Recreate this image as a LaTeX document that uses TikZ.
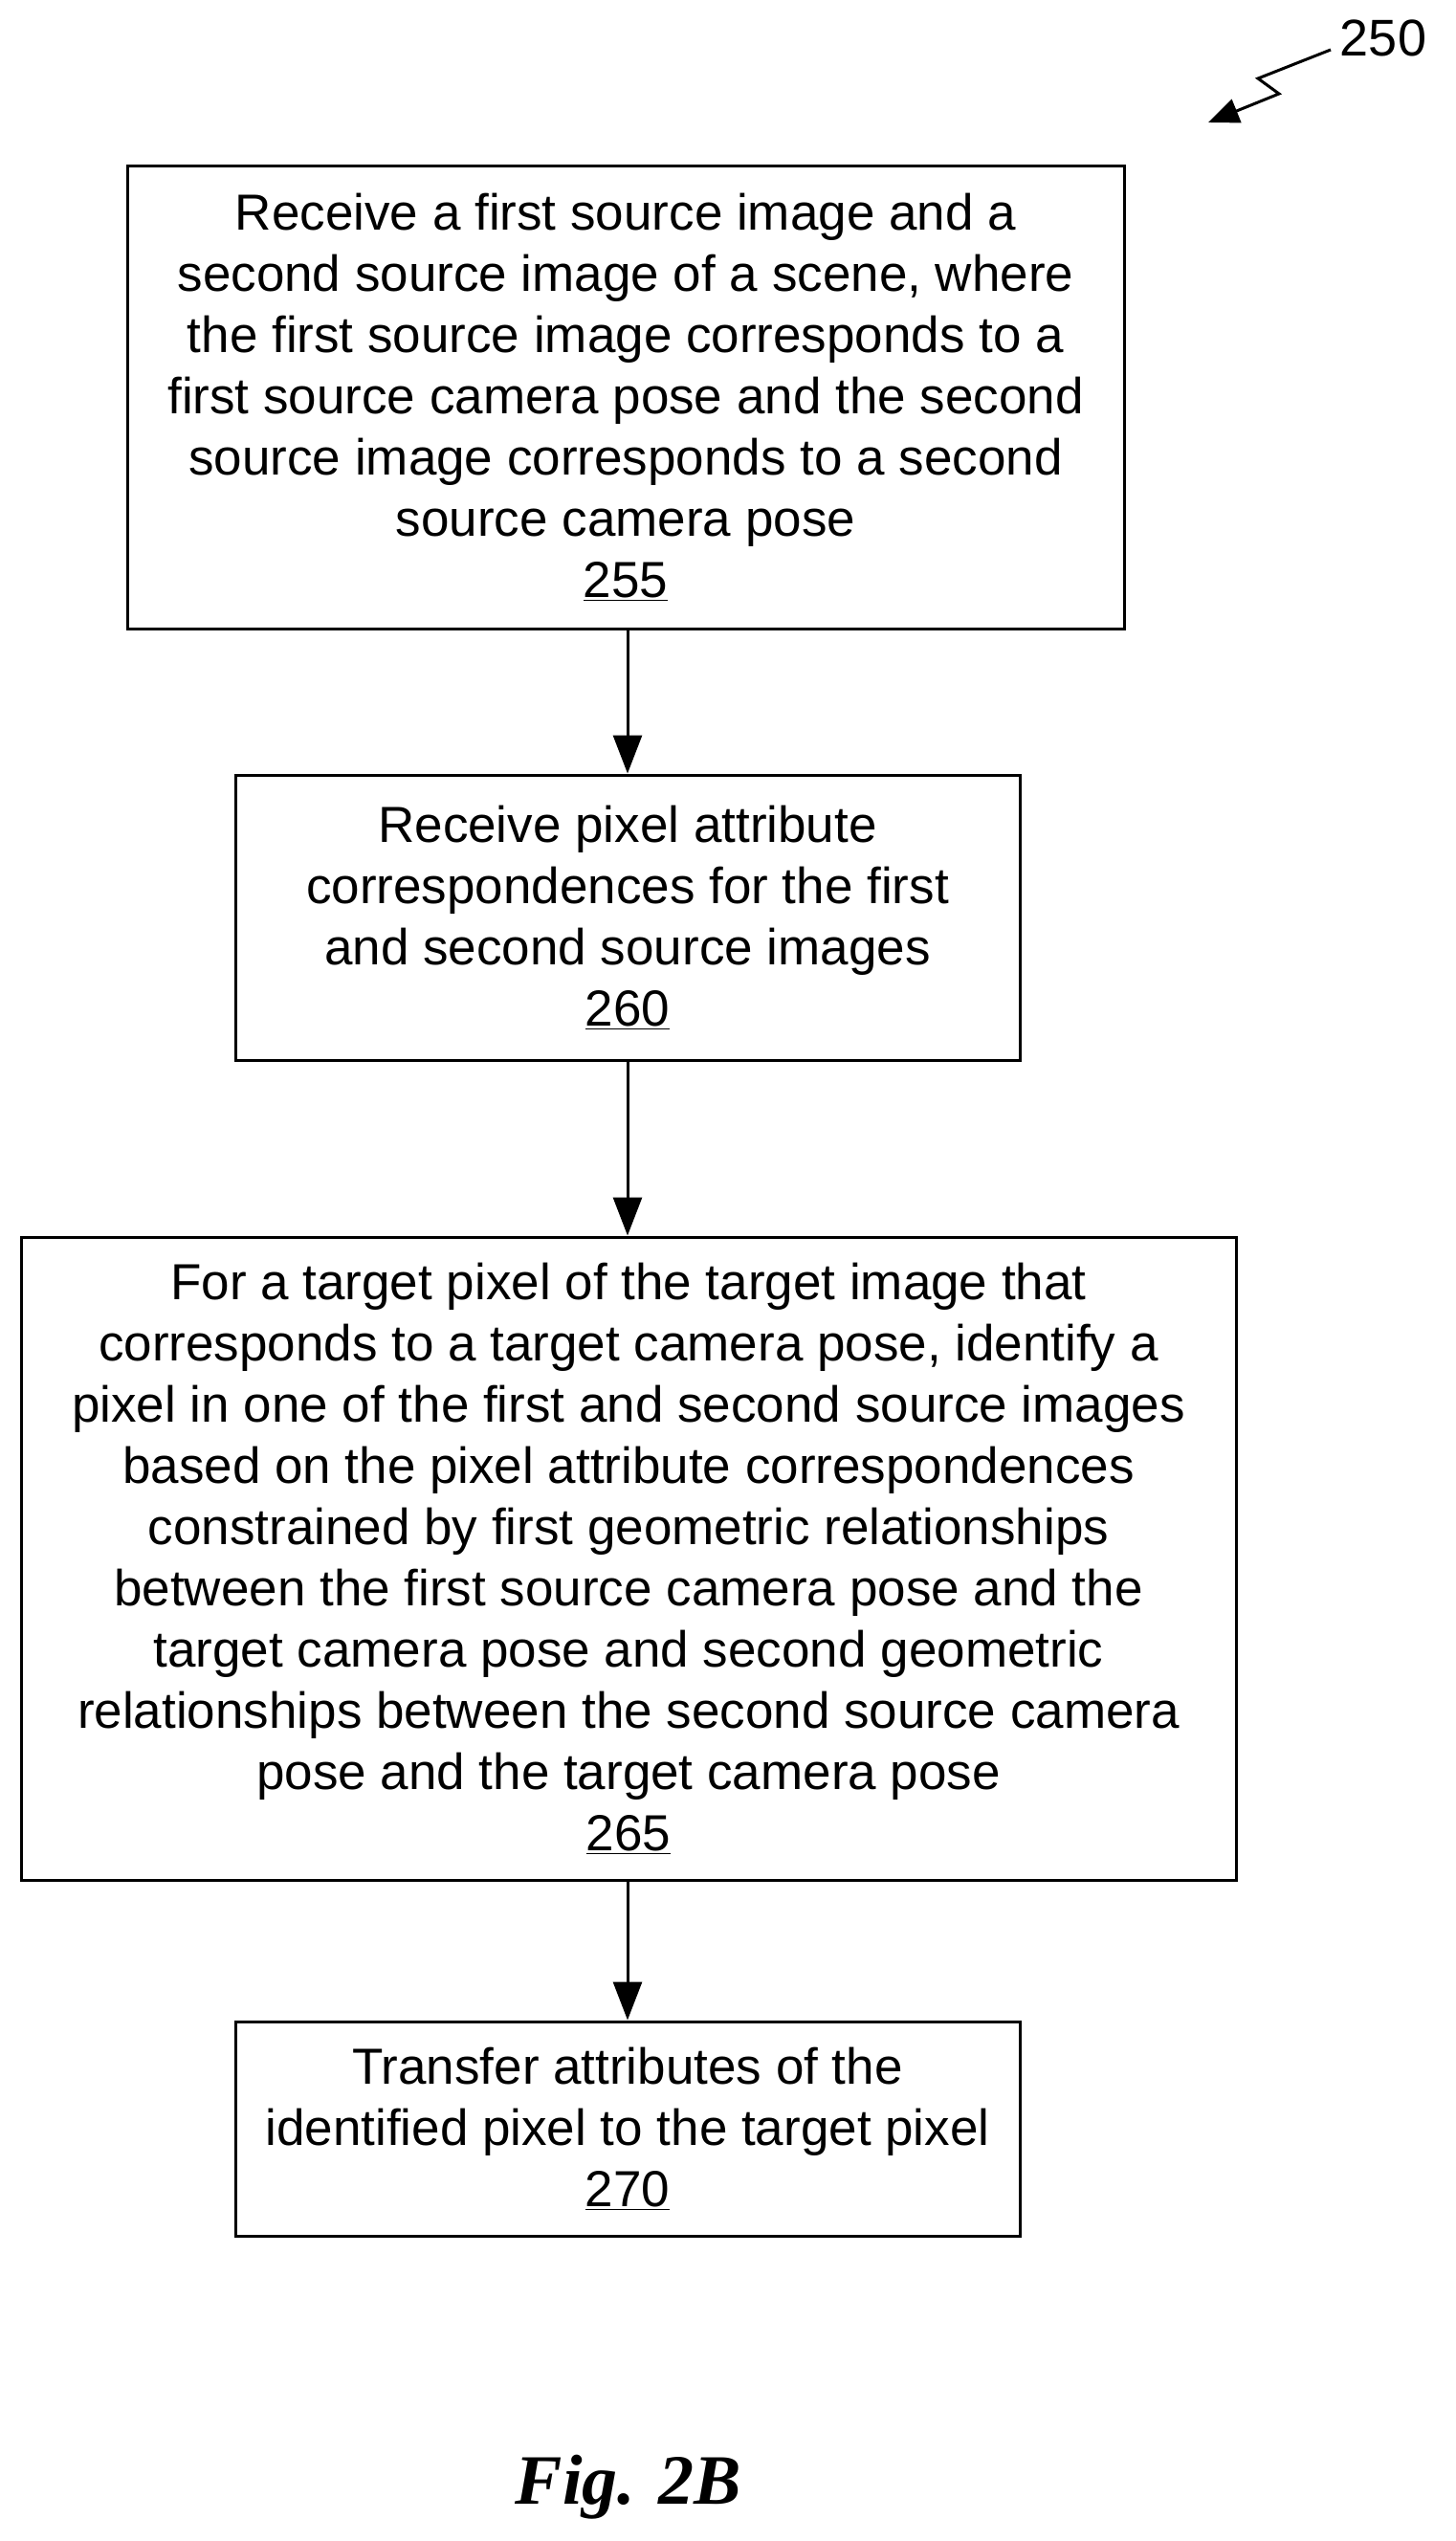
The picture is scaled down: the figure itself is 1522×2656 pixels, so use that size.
\documentclass[tikz,border=0pt]{standalone}
\usepackage{fontspec}
\setmainfont{Liberation Sans}
\newfontfamily\figfont{Liberation Serif}
\usetikzlibrary{arrows.meta}
\begin{document}
\begin{tikzpicture}[x=1pt,y=-1pt,
  stepbox/.style={draw,line width=3pt,align=center,inner sep=0pt,font=\fontsize{53}{64}\selectfont},
  arr/.style={line width=3pt,-{Triangle[length=40pt,width=30pt]}}]
\useasboundingbox (0,0) rectangle (1522,2656);
\node[stepbox,minimum width=1042pt,minimum height=484pt] (b1) at (654,415) {Receive a first source image and a\\second source image of a scene, where\\the first source image corresponds to a\\first source camera pose and the second\\source image corresponds to a second\\source camera pose\\\underline{255}};
\node[stepbox,minimum width=820pt,minimum height=298pt] (b2) at (656,959) {Receive pixel attribute\\correspondences for the first\\and second source images\\\underline{260}};
\node[stepbox,minimum width=1270pt,minimum height=672pt] (b3) at (657,1629) {For a target pixel of the target image that\\corresponds to a target camera pose, identify a\\pixel in one of the first and second source images\\based on the pixel attribute correspondences\\constrained by first geometric relationships\\between the first source camera pose and the\\target camera pose and second geometric\\relationships between the second source camera\\pose and the target camera pose\\\underline{265}};
\node[stepbox,minimum width=820pt,minimum height=224pt] (b4) at (656,2225) {Transfer attributes of the\\identified pixel to the target pixel\\\underline{270}};
\draw[arr] (b1.south -| b2.north) -- (b2.north);
\draw[arr] (b2.south) -- (b2.south |- b3.north);
\draw[arr] (b3.south -| b4.north) -- (b4.north);
\node[font=\fontsize{54}{60}\selectfont] (ref) at (1446,40) {250};
\coordinate (z0) at (1391,52);
\coordinate (z1) at (1315,82);
\coordinate (z2) at (1337,98);
\coordinate (z3) at (1263,128);
\draw[line width=3pt,-{Triangle[length=32pt,width=26pt]}] (z0) -- (z1) -- (z2) -- (z3);
\node[font=\figfont\bfseries\itshape\fontsize{74}{80}\selectfont] (fig) at (657,2600) {Fig. 2B};
\end{tikzpicture}
\end{document}
